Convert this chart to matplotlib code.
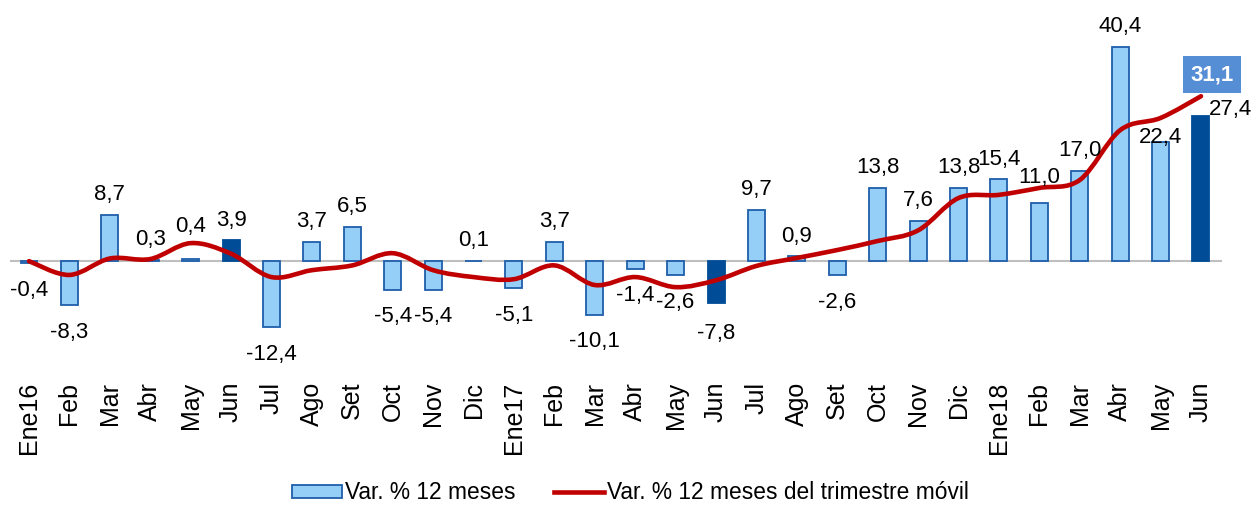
import numpy as np
import matplotlib.pyplot as plt
from matplotlib.path import Path
from matplotlib.patches import PathPatch, Patch
from matplotlib.lines import Line2D

plt.rcParams['font.family'] = ['Liberation Sans', 'DejaVu Sans']

# data
months = ['Ene16', 'Feb', 'Mar', 'Abr', 'May', 'Jun', 'Jul', 'Ago', 'Set', 'Oct', 'Nov', 'Dic',
          'Ene17', 'Feb', 'Mar', 'Abr', 'May', 'Jun', 'Jul', 'Ago', 'Set', 'Oct', 'Nov', 'Dic',
          'Ene18', 'Feb', 'Mar', 'Abr', 'May', 'Jun']
var12 = [-0.4, -8.3, 8.7, 0.3, 0.4, 3.9, -12.4, 3.7, 6.5, -5.4, -5.4, 0.1,
         -5.1, 3.7, -10.1, -1.4, -2.6, -7.8, 9.7, 0.9, -2.6, 13.8, 7.6, 13.8,
         15.4, 11.0, 17.0, 40.4, 22.4, 27.4]
trim = [0.0, -2.6, 0.5, 0.4, 3.4, 1.4, -3.0, -1.7, -0.8, 1.5, -1.7, -3.0,
        -3.4, -0.8, -4.5, -3.0, -4.9, -3.6, -0.9, 0.6, 2.1, 3.8, 5.8, 11.9,
        12.5, 13.8, 15.3, 24.7, 27.0, 31.1]
dark_idx = [5, 17, 29]   # junio de cada año

light = '#95CFF7'
edge = '#1F5FAA'
dark = '#004C97'
red = '#C00000'

fig = plt.figure(figsize=(12.53, 5.05), dpi=100)
W, H = 1253, 505
ax = fig.add_axes([10 / W, (H - 372) / H, 1212 / W, 367 / H])

x = np.arange(len(months))
fc = [dark if i in dark_idx else light for i in x]
ec = [dark if i in dark_idx else edge for i in x]
ax.bar(x, var12, width=0.42, color=fc, edgecolor=ec, linewidth=1.3, zorder=2)
ax.axhline(0, color='#BFBFBF', lw=1.5, zorder=1)

# smoothed line (bezier, like excel)
pts = np.column_stack([x, trim]).astype(float)
verts = [tuple(pts[0])]
codes = [Path.MOVETO]
n = len(pts)
for i in range(n - 1):
    p0 = pts[max(i - 1, 0)]
    p1 = pts[i]
    p2 = pts[i + 1]
    p3 = pts[min(i + 2, n - 1)]
    c1 = p1 + (p2 - p0) / 6.0
    c2 = p2 - (p3 - p1) / 6.0
    verts += [tuple(c1), tuple(c2), tuple(p2)]
    codes += [Path.CURVE4] * 3
ax.add_patch(PathPatch(Path(verts, codes), fill=False, edgecolor=red, lw=3.3,
                       capstyle='round', joinstyle='round', zorder=3))

# value labels
nudge = {4: 9, 25: 4, 28: -11, 17: -3}
for i, v in enumerate(var12):
    if i == len(var12) - 1:
        ax.annotate('27,4', (i, v), xytext=(21, -3), textcoords='offset points',
                    ha='center', va='bottom', fontsize=16, zorder=4)
        continue
    lab = f'{v:.1f}'.replace('.', ',')
    d = nudge.get(i, 0)
    if v >= 0:
        ax.annotate(lab, (i, v), xytext=(0, 7 + d), textcoords='offset points',
                    ha='center', va='bottom', fontsize=16, zorder=4)
    else:
        ax.annotate(lab, (i, v), xytext=(0, -12 + d), textcoords='offset points',
                    ha='center', va='top', fontsize=16, zorder=4)

ax.annotate('31,1', (x[-1], trim[-1]), xytext=(8, 15.5), textcoords='offset points',
            ha='center', va='center', fontsize=16, fontweight='bold', color='white',
            bbox=dict(boxstyle='square,pad=0.35', facecolor='#558ED5', edgecolor='none'),
            zorder=5)

ax.set_xlim(-0.47, 29.52)
ax.set_ylim(-20.9, 48.3)
ax.set_xticks(x)
ax.set_xticklabels(months, rotation=90, fontsize=18)
ax.tick_params(axis='x', length=0, pad=7)
ax.set_yticks([])
for s in ax.spines.values():
    s.set_visible(False)

handles = [Patch(facecolor=light, edgecolor=edge, linewidth=1.3),
           Line2D([0], [0], color=red, lw=3.3)]
fig.legend(handles, ['Var. % 12 meses', 'Var. % 12 meses del trimestre móvil'],
           loc='center', bbox_to_anchor=(0.503, 0.024), ncol=2, frameon=False,
           fontsize=16.4, handlelength=2.2, handleheight=0.5, handletextpad=0.12,
           columnspacing=1.7, borderpad=0, borderaxespad=0)

fig.savefig('out.png', dpi=100)
